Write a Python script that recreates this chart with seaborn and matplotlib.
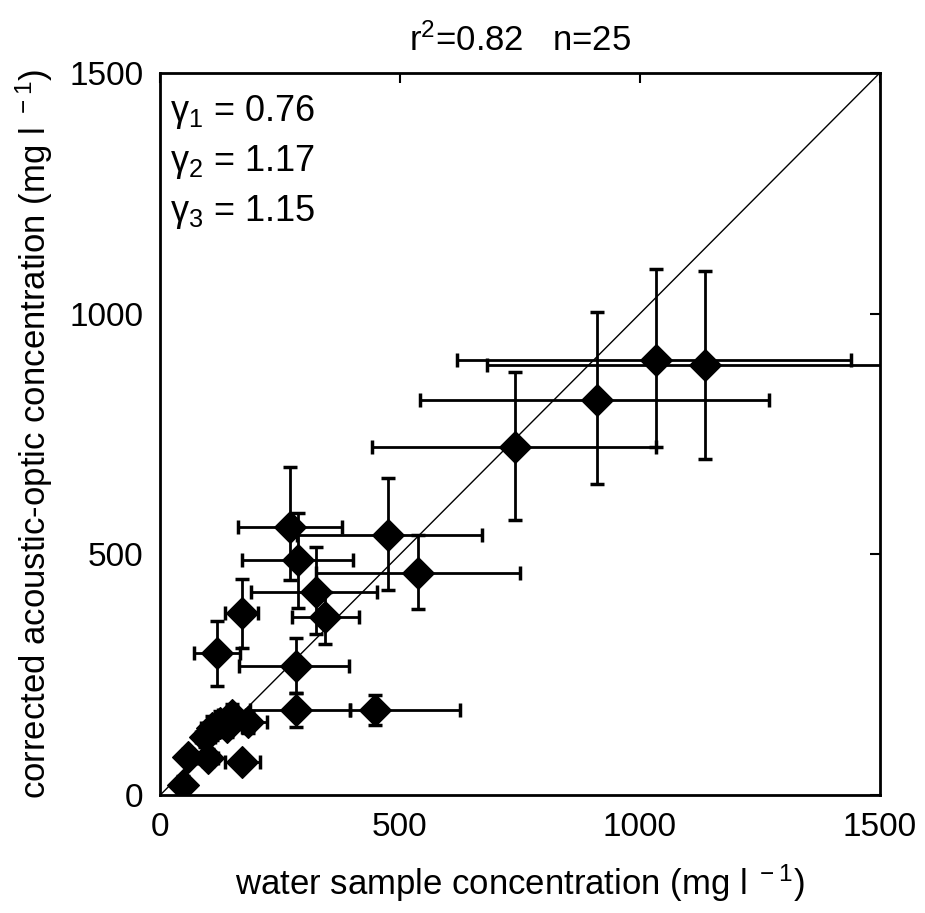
import matplotlib
matplotlib.use("Agg")
import matplotlib.pyplot as plt
import seaborn as sns
import pandas as pd
import numpy as np

# Data
water_conc = [1033, 1135, 910, 740, 271, 475, 537, 288, 325, 344, 171, 118, 283,
              283, 448, 171, 48, 59, 100, 94, 108, 150, 183, 140, 125]
acoustic_conc = [904, 893, 821, 723, 557, 540, 461, 488, 422, 370, 378, 295, 268,
                 177, 177, 69, 21, 79, 77, 121, 139, 166, 152, 141, 150]
x_low = [619, 681, 542, 442, 163, 285, 325, 171, 190, 275, 135, 71, 165,
         188, 396, 135, 35, 45, 80, 75, 85, 120, 140, 110, 100]
x_high = [1440, 1600, 1269, 1033, 379, 671, 750, 402, 452, 415, 204, 167, 394,
          396, 625, 208, 62, 75, 120, 115, 130, 180, 223, 170, 150]
y_low = [724, 698, 646, 571, 447, 426, 386, 389, 335, 314, 305, 226, 212,
         141, 145, 55, 5, 65, 60, 100, 115, 140, 130, 120, 130]
y_high = [1093, 1089, 1003, 879, 681, 659, 540, 586, 515, 422, 449, 361, 326,
          212, 208, 83, 40, 95, 95, 140, 165, 190, 175, 165, 175]
one_to_one = [0, 1500]
ticks = [0, 500, 1000, 1500]
tick_labels = ["0", "500", "1000", "1500"]
gamma_text = [r"$\gamma_1$ = 0.76", r"$\gamma_2$ = 1.17", r"$\gamma_3$ = 1.15"]

df = pd.DataFrame({"x": water_conc, "y": acoustic_conc,
                   "xlo": x_low, "xhi": x_high, "ylo": y_low, "yhi": y_high})

sns.set_style("white")
plt.rcParams["font.family"] = ["Liberation Sans", "DejaVu Sans"]
plt.rcParams["mathtext.default"] = "regular"
plt.rcParams["text.color"] = "black"
plt.rcParams["axes.labelcolor"] = "black"
plt.rcParams["xtick.color"] = "black"
plt.rcParams["ytick.color"] = "black"

fig = plt.figure(figsize=(9.25, 9.13), dpi=100)
ax = fig.add_axes([0.173, 0.129, 0.778, 0.791])

# 1:1 line
sns.lineplot(x=one_to_one, y=one_to_one, ax=ax, color="black", linewidth=1.0)

# error bars
xerr = np.vstack([df["x"] - df["xlo"], df["xhi"] - df["x"]])
yerr = np.vstack([df["y"] - df["ylo"], df["yhi"] - df["y"]])
ax.errorbar(df["x"], df["y"], xerr=xerr, yerr=yerr, fmt="none", ecolor="black",
            elinewidth=2.0, capsize=5, capthick=2.5, zorder=2)

# markers
sns.scatterplot(data=df, x="x", y="y", ax=ax, marker="D", s=260, color="black",
                edgecolor="black", linewidth=1.0, zorder=3, legend=False)

ax.set_xlim(0, 1500)
ax.set_ylim(0, 1500)
ax.set_xticks(ticks)
ax.set_xticklabels(tick_labels)
ax.set_yticks(ticks)
ax.set_yticklabels(tick_labels)
ax.tick_params(direction="in", length=7, width=1.5, labelsize=24,
               top=True, right=True)
ax.tick_params(axis="x", pad=12)
ax.tick_params(axis="y", pad=12)
for sp in ax.spines.values():
    sp.set_visible(True)
    sp.set_linewidth(2.0)
    sp.set_color("black")

ax.set_xlabel(r"water sample concentration (mg l$^{\ -1}$)", fontsize=25, labelpad=14)
ax.set_ylabel(r"corrected acoustic-optic concentration (mg l$^{\ -1}$)", fontsize=25,
              labelpad=10)
ax.set_title(r"r$^2$=0.82   n=25", fontsize=25, pad=16)

gamma_y = [0.946, 0.877, 0.807]
for t, yy in zip(gamma_text, gamma_y):
    ax.text(0.014, yy, t, transform=ax.transAxes, fontsize=26,
            va="center", ha="left")

fig.savefig("out.png", dpi=100)
